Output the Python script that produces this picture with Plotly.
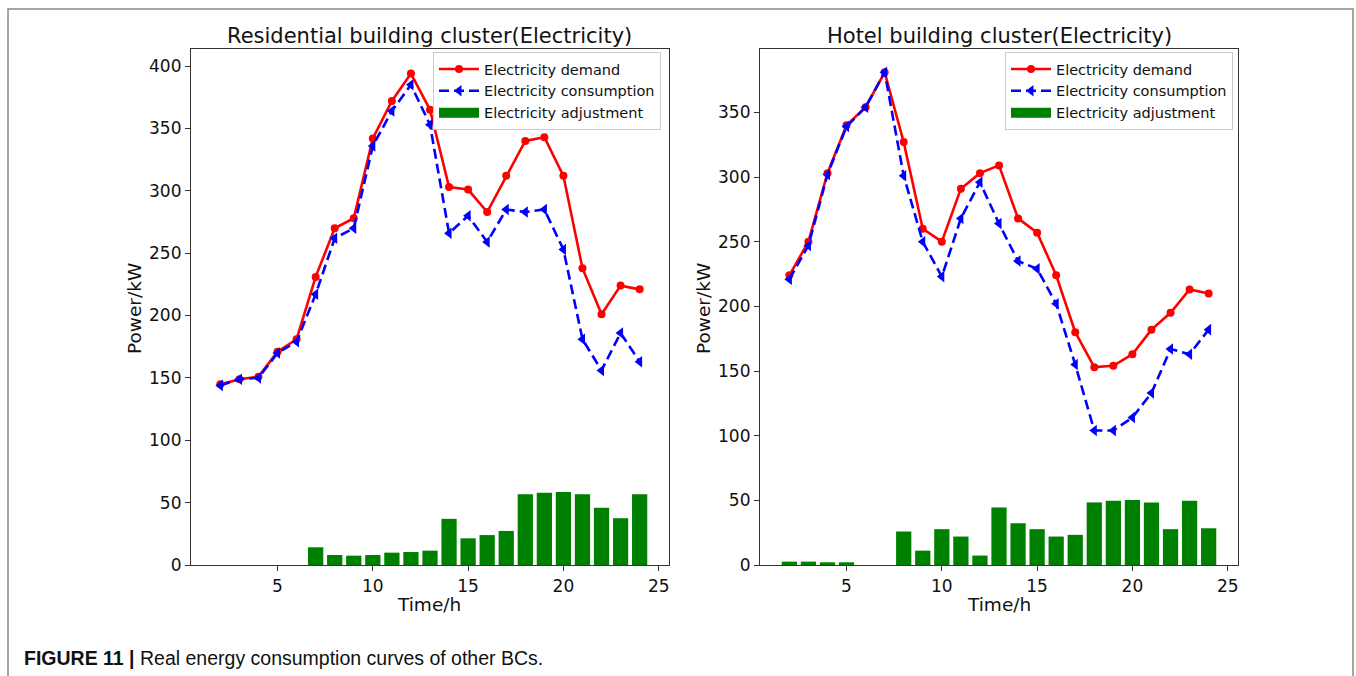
import plotly.graph_objects as go

hours = list(range(2, 25))

res_demand = [145, 149, 151, 171, 181, 231, 270, 278, 342, 372, 394, 365, 303, 301, 283, 312, 340, 343, 312, 238, 201, 224, 221]
res_consumption = [144, 149, 150, 170, 179, 217, 262, 270, 336, 364, 385, 353, 266, 280, 259, 285, 283, 285, 253, 181, 156, 186, 163]
res_adjustment = [0, 0, 0, 0, 0, 14.2, 8, 7.5, 8, 9.9, 10.4, 11.5, 37, 21.4, 24, 27.3, 56.8, 58, 58.6, 56.8, 45.8, 37.5, 56.8]

hot_demand = [224, 250, 303, 340, 354, 381, 327, 260, 250, 291, 303, 309, 268, 257, 224, 180, 153, 154, 163, 182, 195, 213, 210]
hot_consumption = [221, 247, 302, 339, 354, 381, 301, 250, 223, 268, 296, 264, 235, 229, 202, 155, 104, 104, 114, 133, 167, 163, 182]
hot_adjustment = [2.6, 2.6, 2.1, 2.1, 0, 0, 25.9, 11.1, 27.7, 22, 7.3, 44.5, 32.3, 27.7, 22, 23.3, 48.4, 49.6, 50.2, 48.4, 27.7, 49.6, 28.4]

titles = ["Residential building cluster(Electricity)", "Hotel building cluster(Electricity)"]
x_ticks = [5, 10, 15, 20, 25]
y_ticks = [0, 50, 100, 150, 200, 250, 300, 350, 400]

W, H = 1356, 676
FONT = "DejaVu Sans"
GREEN = "#008000"

fig = go.Figure()

panels = [
    (res_demand, res_consumption, res_adjustment, "x", "y", "legend"),
    (hot_demand, hot_consumption, hot_adjustment, "x2", "y2", "legend2"),
]

for dem, con, adj, xa, ya, lg in panels:
    fig.add_trace(go.Bar(x=hours, y=adj, width=0.8, marker=dict(color=GREEN, line=dict(width=0)),
                         name="Electricity adjustment", xaxis=xa, yaxis=ya, showlegend=False))
    fig.add_trace(go.Scatter(x=hours, y=dem, mode="lines+markers", name="Electricity demand",
                             line=dict(color="#ff0000", width=2.6),
                             marker=dict(symbol="circle", size=8, color="#ff0000"),
                             xaxis=xa, yaxis=ya, legend=lg, legendrank=1))
    fig.add_trace(go.Scatter(x=hours, y=con, mode="lines+markers", name="Electricity consumption",
                             line=dict(color="#0000ff", width=2.6, dash="10px,5px"),
                             marker=dict(symbol="triangle-left", size=10, color="#0000ff"),
                             xaxis=xa, yaxis=ya, legend=lg, legendrank=2))
    # legend-only patch for the bars (wide rectangle like the original)
    fig.add_trace(go.Scatter(x=[None], y=[None], mode="lines", name="Electricity adjustment",
                             line=dict(color=GREEN, width=10),
                             xaxis=xa, yaxis=ya, legend=lg, legendrank=3, hoverinfo="skip"))

y0 = 1 - 565 / H
y1 = 1 - 49 / H

axis_common = dict(showgrid=False, zeroline=False, showline=True, linecolor="#333333", linewidth=1.2,
                   mirror=True, ticks="outside", ticklen=5, tickcolor="#333333", automargin=False,
                   tickfont=dict(family=FONT, size=17, color="#111111"))

legend_common = dict(yanchor="top", xanchor="right", bgcolor="white", bordercolor="#cccccc", borderwidth=1,
                     font=dict(family=FONT, size=14.5, color="#111111"), tracegroupgap=0, itemwidth=40)

fig.update_layout(
    width=W, height=H, margin=dict(l=0, r=0, t=0, b=0, autoexpand=False),
    paper_bgcolor="white", plot_bgcolor="white",
    font=dict(family=FONT, color="#111111"),
    barmode="overlay",
    xaxis=dict(domain=[191 / W, 669 / W], range=[0.46, 25.54], tickvals=x_ticks, anchor="y", **axis_common),
    yaxis=dict(domain=[y0, y1], range=[0, 413.7], tickvals=y_ticks, anchor="x", **axis_common),
    xaxis2=dict(domain=[760 / W, 1238 / W], range=[0.46, 25.54], tickvals=x_ticks, anchor="y2", **axis_common),
    yaxis2=dict(domain=[y0, y1], range=[0, 399], tickvals=y_ticks, anchor="x2", **axis_common),
    legend=dict(x=661 / W, y=1 - 52 / H, **legend_common),
    legend2=dict(x=1233 / W, y=1 - 52 / H, **legend_common),
)

annotations = []
for cx, t in zip([429, 999], titles):
    annotations.append(dict(text=t, x=cx / W, y=1 - 36 / H, xref="paper", yref="paper",
                            xanchor="center", yanchor="middle", showarrow=False,
                            font=dict(family=FONT, size=21, color="#111111")))
for cx in [429, 999]:
    annotations.append(dict(text="Time/h", x=cx / W, y=1 - 604 / H, xref="paper", yref="paper",
                            xanchor="center", yanchor="middle", showarrow=False,
                            font=dict(family=FONT, size=18.5, color="#111111")))
for cx in [135, 704]:
    annotations.append(dict(text="Power/kW", x=cx / W, y=1 - 309 / H, xref="paper", yref="paper",
                            xanchor="center", yanchor="middle", showarrow=False, textangle=-90,
                            font=dict(family=FONT, size=18.5, color="#111111")))
annotations.append(dict(text="<b>FIGURE 11 |</b> Real energy consumption curves of other BCs.",
                        x=22 / W, y=1 - 658 / H, xref="paper", yref="paper",
                        xanchor="left", yanchor="middle", showarrow=False,
                        font=dict(family="Liberation Sans Narrow, Liberation Sans, Arial", size=19.5, color="#111111")))
fig.update_layout(annotations=annotations)

# outer figure frame (left, top, right edges; bottom runs off the page)
fx0, fx1, fy1 = 8 / W, 1353 / W, 1 - 9 / H
fig.add_shape(type="path", xref="paper", yref="paper",
              path=f"M {fx0} 0 L {fx0} {fy1} L {fx1} {fy1} L {fx1} 0",
              line=dict(color="#888888", width=1.5), layer="below")

fig.write_html("out.html", config={"displayModeBar": False},
               post_script="document.body.style.margin='0';document.body.style.overflow='hidden';")
